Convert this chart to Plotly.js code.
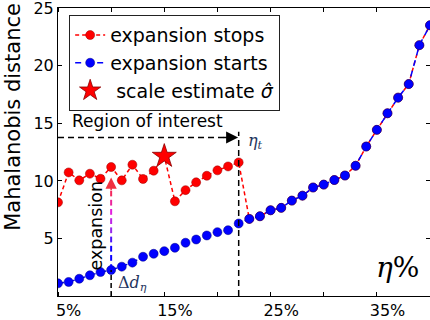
<!DOCTYPE html>
<html>
<head>
<meta charset="utf-8">
<script src="https://cdn.plot.ly/plotly-3.0.1.min.js"></script>
<style>html,body{margin:0;padding:0;background:#fff;}#chart{width:430px;height:320px;}</style>
</head>
<body>
<div id="chart"></div>
<script>
// eta levels (percent)
const eta = [4,5,6,7,8,9,10,11,12,13,14,15,16,17,18,19,20,21,22,23,24,25,26,27,28,29,30,31,32,33,34,35,36,37,38,39];
// Mahalanobis distance where expansion starts
const startsVals = [1.1,1.22,1.5,1.8,2.08,2.26,2.55,2.9,3.41,3.67,3.9,4.19,4.63,4.91,5.26,5.55,5.72,6.3,6.7,6.93,7.45,7.66,8.29,8.72,9.43,9.68,10.08,10.47,11.32,12.99,14.44,15.88,17.24,18.42,21.8,23.53];
// Mahalanobis distance where expansion stops
const stopsVals = [8.14,10.74,10.05,10.63,10.19,11.21,10.05,11.41,10.17,10.89,12.15,8.23,9.2,9.88,10.45,10.92,11.26,11.61,6.7,6.93,7.45,7.66,8.29,8.72,9.43,9.68,10.08,10.47,11.32,12.99,14.44,15.88,17.24,18.42,21.8,23.53];
const xTickVals = [5,15,25,35];
const xTickText = ['5%','15%','25%','35%'];
const xMinorTicks = [4,9,14,19,24,29,34,39];
const yTickVals = [5,10,15,20,25];
const sigmaIdx = 10;      // index of scale estimate
const expIdx = 5;         // index of the expansion arrow
const etaTIdx = 17;       // index of eta_t
const roiLevel = 13.77;   // region of interest arrow height
const expTop = 10.3;      // top of the expansion arrow

const FONT = 'DejaVu Sans, sans-serif';
const SERIF = 'DejaVu Serif, serif';

const traces = [
  {x: eta, y: stopsVals, mode: 'lines+markers', name: 'expansion stops',
   line: {color: '#ff0000', width: 1.5, dash: '4px,3px'},
   marker: {color: '#ff0000', size: 9, line: {color: '#990000', width: 0.5}}},
  {x: eta, y: startsVals, mode: 'lines+markers', name: 'expansion starts',
   line: {color: '#0000ff', width: 1.5, dash: '6px,5px'},
   marker: {color: '#0000ff', size: 9, line: {color: '#000080', width: 0.5}}},
  {x: [eta[sigmaIdx]], y: [stopsVals[sigmaIdx]], mode: 'markers', name: ' scale estimate <i>σ̂</i>',
   marker: {symbol: 'star', color: '#ff0000', size: 18, line: {color: '#880000', width: 0.8}}}
];

const shapes = [];
// region of interest dashed line
shapes.push({type:'line', xref:'x', yref:'y', x0: eta[0], x1: eta[etaTIdx]-1.2, y0: roiLevel, y1: roiLevel,
  line:{color:'black', width:1.5, dash:'6px,4px'}});
// eta_t vertical
shapes.push({type:'line', xref:'x', yref:'y', x0: eta[etaTIdx], x1: eta[etaTIdx], y0: 0, y1: roiLevel+0.5,
  line:{color:'black', width:1.5, dash:'6px,4px'}});
// black dashed under expansion point
shapes.push({type:'line', xref:'x', yref:'y', x0: eta[expIdx], x1: eta[expIdx], y0: 0, y1: startsVals[expIdx],
  line:{color:'black', width:1.5, dash:'5px,3px'}});
// colored dashed expansion arrow
(function(){
  const y0 = startsVals[expIdx], y1 = expTop - 0.9;
  const stops = [[0,[0,0,255]],[0.3,[20,0,255]],[0.45,[140,40,235]],[0.7,[225,30,225]],[0.88,[240,40,120]],[1,[250,40,60]]];
  function col(t){
    for(let i=1;i<stops.length;i++){ if(t<=stops[i][0]){ const a=stops[i-1],b=stops[i]; const f=(t-a[0])/(b[0]-a[0]);
      return 'rgb('+a[1].map((v,k)=>Math.round(v+(b[1][k]-v)*f)).join(',')+')'; } }
    return 'rgb(250,40,60)';
  }
  const on = 0.5, off = 0.3;
  let y = y0;
  while (y < y1) {
    const ye = Math.min(y+on, y1);
    const t = ((y+ye)/2 - y0)/(y1-y0);
    shapes.push({type:'line', xref:'x', yref:'y', x0: eta[expIdx], x1: eta[expIdx], y0: y, y1: ye, line:{color: col(t), width: 2}});
    y = ye + off;
  }
})();

const annotations = [
  // ROI arrowhead
  {x: eta[etaTIdx]-0.05, y: roiLevel, xref:'x', yref:'y', ax: -16, ay: 0, text:'', showarrow:true,
   arrowhead:2, arrowsize:1.6, arrowwidth:1.5, arrowcolor:'black'},
  {x: eta[0]+1.1, y: roiLevel+0.4, xref:'x', yref:'y', text:'Region of interest', showarrow:false,
   xanchor:'left', yanchor:'bottom', font:{family:FONT, size:17, color:'black'}},
  {x: eta[etaTIdx]+0.65, y: roiLevel-0.3, xref:'x', yref:'y', text:'<i>η</i><sub><i>t</i></sub>', showarrow:false,
   xanchor:'left', yanchor:'middle', font:{family:SERIF, size:16, color:'#1f3560'}},
  // expansion arrowhead
  {x: eta[expIdx], y: expTop, xref:'x', yref:'y', ax: 0, ay: 14, text:'', showarrow:true,
   arrowhead:2, arrowsize:1.5, arrowwidth:1.5, arrowcolor:'#f03040'},
  {x: eta[expIdx]-1.45, y: 6.1, xref:'x', yref:'y', text:'expansion', showarrow:false, textangle:-90,
   font:{family:FONT, size:17.5, color:'black'}},
  {x: eta[expIdx]+0.5, y: 1.1, xref:'x', yref:'y', text:'Δ<i>d</i><sub><i>η</i></sub>', showarrow:false,
   xanchor:'left', yanchor:'middle', font:{family:SERIF, size:16, color:'#1f3560'}},
  {x: 35.9, y: 2.45, xref:'x', yref:'y', text:'<i>η</i>%', showarrow:false,
   xanchor:'center', yanchor:'middle', font:{family:SERIF, size:28, color:'black'}},
  {x: -0.121, y: 0.622, xref:'paper', yref:'paper', text:'Mahalanobis distance', showarrow:false, textangle:-90,
   xanchor:'center', yanchor:'middle', font:{family:FONT, size:21, color:'black'}}
];

const layout = {
  width: 430, height: 320,
  margin: {l: 58, r: 0, t: 8, b: 24, pad: 0},
  paper_bgcolor: 'white', plot_bgcolor: 'white',
  font: {family: FONT, size: 16, color: 'black'},
  showlegend: true,
  legend: {x: 0.03, y: 0.975, xanchor: 'left', yanchor: 'top', bgcolor: 'white',
    bordercolor: '#222', borderwidth: 1, font: {family: FONT, size: 19, color: 'black'},
    itemwidth: 30, tracegroupgap: 0},
  xaxis: {range: [4, 39], tickmode: 'array', tickvals: xTickVals, ticktext: xTickText, ticks: '',
    showline: true, linecolor: 'black', linewidth: 1, mirror: 'ticks', showgrid: false, zeroline: false,
    tickfont: {family: FONT, size: 16}, ticklabeloverflow: 'allow',
    minor: {tickmode: 'array', tickvals: xMinorTicks, ticks: 'inside', ticklen: 4, tickcolor: 'black', showgrid: false}},
  yaxis: {range: [0, 25.03], tickmode: 'array', tickvals: yTickVals, ticks: 'inside', ticklen: 4, tickcolor: 'black',
    showline: true, linecolor: 'black', linewidth: 1, mirror: 'ticks', showgrid: false, zeroline: false,
    tickfont: {family: FONT, size: 16}, ticklabeloverflow: 'allow'},
  shapes: shapes,
  annotations: annotations
};

Plotly.newPlot('chart', traces, layout, {displayModeBar: false, staticPlot: true});
</script>
</body>
</html>
